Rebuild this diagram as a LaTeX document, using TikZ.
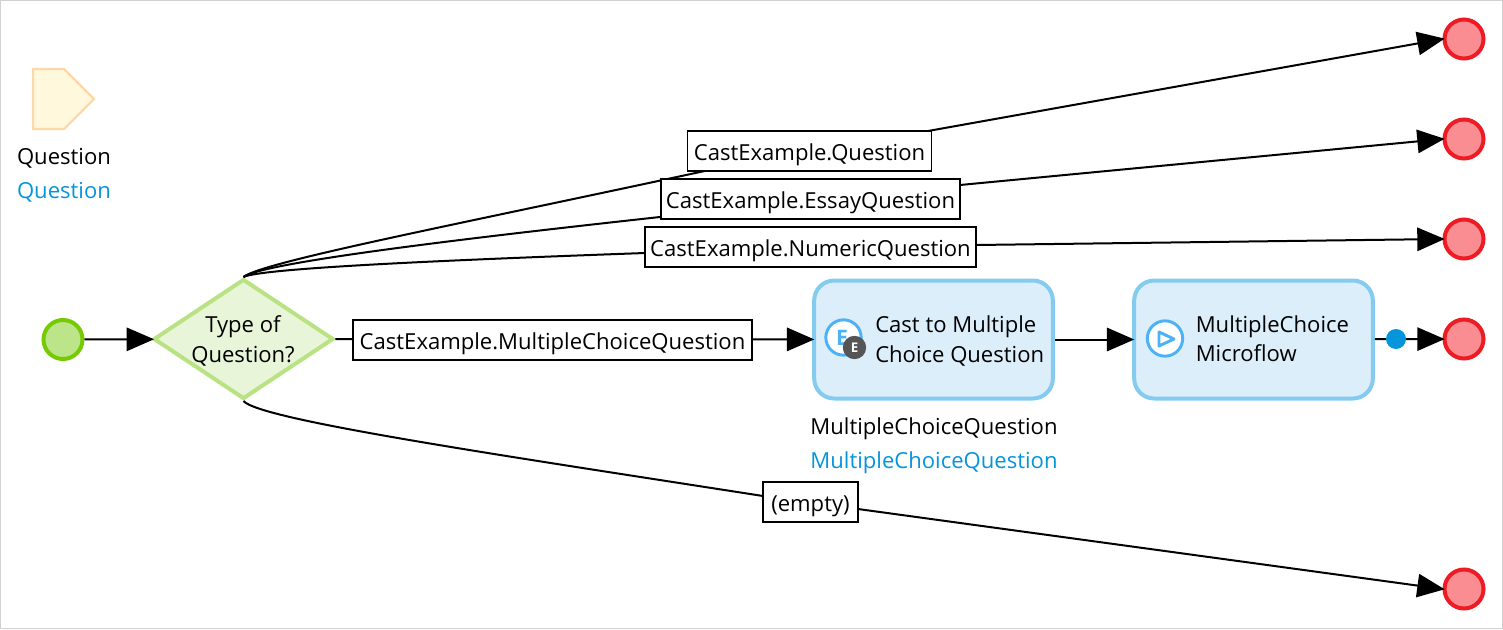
\documentclass[tikz,border=0pt]{standalone}
\usepackage{fontspec}
\usepackage{tikz}
\usetikzlibrary{arrows.meta,shapes.geometric}
\setmainfont{Open Sans}
\definecolor{framegray}{HTML}{D0D0D0}
\definecolor{startline}{HTML}{76CA02}
\definecolor{startfill}{HTML}{BCE58A}
\definecolor{endline}{HTML}{ED1C24}
\definecolor{endfill}{HTML}{F98D91}
\definecolor{splitline}{HTML}{B9E383}
\definecolor{splitfill}{HTML}{E8F5D8}
\definecolor{actionline}{HTML}{84CBF0}
\definecolor{actionfill}{HTML}{DBEEFA}
\definecolor{paramline}{HTML}{FDD9A9}
\definecolor{paramfill}{HTML}{FFF8DC}
\definecolor{varblue}{HTML}{0595DB}
\definecolor{iconblue}{HTML}{4DB1F5}
\definecolor{icongray}{HTML}{555555}

\tikzset{
  flow/.style={draw=black, line width=1.5pt, shorten >=-1.6pt, -{Triangle[length=20.5pt,width=17.5pt]}},
  caselabel/.style={rectangle, draw=black, line width=1.3pt, fill=white, inner sep=0pt, minimum height=29.5pt, text height=17pt, text depth=3.5pt},
  endevent/.style={circle, draw=endline, fill=endfill, line width=3pt, minimum size=29.25pt, inner sep=0pt},
  action/.style={rectangle, rounded corners=15pt, draw=actionline, fill=actionfill, line width=3pt, minimum width=179pt, minimum height=88.5pt},
  actiontext/.style={anchor=west, align=left, inner sep=0pt},
  icon/.style={circle, draw=iconblue, fill=white, line width=2.2pt, minimum size=26.5pt, inner sep=0pt},
  plain/.style={inner sep=0pt}
}

\begin{document}
\begin{tikzpicture}[x=0.75pt, y=-0.75pt, font=\fontsize{16.55}{22}\selectfont]
    \useasboundingbox (0,0) rectangle (1503,629);
    \node (frame) at (751.5,314.5) [rectangle, draw=framegray, line width=0.75pt, minimum width=1126.5pt, minimum height=471.5pt, inner sep=0pt] {};

    % parameter
    \draw[draw=paramline, fill=paramfill, line width=1.6pt] (33,69) -- (64,69) -- (94,99) -- (64,129) -- (33,129) -- cycle;
    \node (paramname) at (64,158.5) [plain] {Question};
    \node (paramtype) at (64,192.5) [plain, text=varblue] {Question};

    % events and split
    \node (start) at (63,339.5) [circle, draw=startline, fill=startfill, line width=3pt, minimum size=29.25pt, inner sep=0pt] {};
    \node (question) at (243.5,339) [diamond, aspect=1.5, draw=splitline, fill=splitfill, line width=3pt, minimum width=135pt, minimum height=90pt, inner sep=0pt] {};
    \node (questiontext) at (243,341) [plain, align=center] {Type of\\Question?};

    \node (endq) at (1464,39) [endevent] {};
    \node (endessay) at (1464,139) [endevent] {};
    \node (endnumeric) at (1464,239) [endevent] {};
    \node (endchoice) at (1464,339) [endevent] {};
    \node (endempty) at (1464,589) [endevent] {};

    % activities
    \node (cast) at (933.5,339.5) [action] {};
    \node (casttext) at (875,341) [actiontext] {Cast to Multiple\\Choice Question};
    \node (castname) at (934,429) [plain] {MultipleChoiceQuestion};
    \node (casttype) at (934,463) [plain, text=varblue] {MultipleChoiceQuestion};
    \node (micro) at (1253.5,339.5) [action] {};
    \node (microtext) at (1195.5,339) [actiontext] {MultipleChoice\\Microflow};

    % connectors
    \draw[flow] (start) -- (question);
    \draw[flow] (question.north) .. controls (262,262) and (450,226) .. (707,170.5) -- (endq.west);
    \draw[flow] (question.north) .. controls (262,263) and (450,240) .. (660,217) -- (960,185) -- (endessay.west);
    \draw[flow] (question.north) .. controls (262,268) and (450,260) .. (645,253) -- (976,245) -- (endnumeric.west);
    \draw[flow] (question.south) .. controls (260,420) and (500,455) .. (763,496) -- (endempty.west);
    \draw[flow] (question) -- (cast);
    \draw[flow] (cast) -- (micro);
    \draw[flow] (micro) -- (endchoice);
    \node (dot) at (1396,339) [circle, fill=varblue, minimum size=15pt, inner sep=0pt] {};

    % case labels
    \node (caseq) at (809.5,151) [caselabel, minimum width=183pt] {CastExample.Question};
    \node (caseessay) at (810.5,199) [caselabel, minimum width=224pt] {CastExample.EssayQuestion};
    \node (casenumeric) at (810.5,247) [caselabel, minimum width=248pt] {CastExample.NumericQuestion};
    \node (casechoice) at (552.5,340) [caselabel, minimum width=299pt] {CastExample.MultipleChoiceQuestion};
    \node (caseempty) at (810.5,502) [caselabel, minimum width=71pt] {(empty)};

    % icons
    \node (casticon) at (843.5,337.5) [icon] {};
    \node (castletter) at (842,338) [plain, text=iconblue, font=\fontsize{16}{16}\selectfont\bfseries] {E};
    \node (castbadge) at (854.5,347.5) [circle, fill=icongray, text=white, minimum size=17.5pt, inner sep=0pt, font=\fontsize{10}{10}\selectfont\bfseries] {E};
    \node (microicon) at (1165,338.5) [icon] {};
    \draw[draw=iconblue, line width=2.2pt, line join=round] (1159,332) -- (1174,339) -- (1159,346) -- cycle;
\end{tikzpicture}
\end{document}
